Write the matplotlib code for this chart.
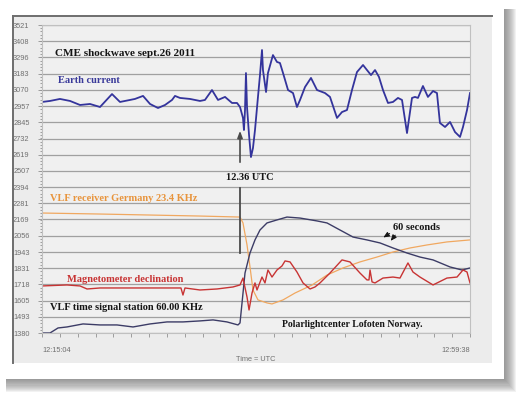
import matplotlib
matplotlib.use("Agg")
import matplotlib.pyplot as plt
from matplotlib.patches import Rectangle
import numpy as np

# tiempos en minutos desde 12:15:04
t_earth = [0.0, 0.83, 1.87, 2.92, 3.96, 5.0, 6.04, 7.29, 8.12, 9.68, 10.52, 11.25, 12.08,
           12.81, 13.54, 13.85, 14.37, 15.41, 16.45, 16.97, 17.70, 18.33, 19.06, 19.79,
           20.31, 20.62, 20.93, 21.03, 21.14, 21.24, 21.35, 21.56, 21.76, 21.97, 22.18,
           22.49, 22.70, 22.91, 23.01, 23.33, 23.53, 24.05, 24.47, 24.78, 25.10, 25.62,
           26.14, 26.55, 26.87, 27.39, 28.01, 28.64, 29.47, 29.99, 30.72, 31.24, 31.76,
           32.28, 32.80, 33.43, 33.84, 34.26, 34.68, 35.09, 35.51, 36.03, 36.55, 37.07,
           37.49, 38.01, 38.53, 38.84, 39.15, 39.67, 40.19, 40.72, 41.13, 41.44, 41.97,
           42.49, 43.01, 43.53, 43.84, 44.26, 44.57]
earth = [2986, 2993, 3007, 2993, 2965, 2972, 2951, 3041, 2986, 3007, 3028, 2972, 2944,
         2965, 3000, 3028, 3014, 3007, 2993, 3000, 3069, 3000, 3021, 2979,
         2979, 2951, 2875, 2791, 2930, 3187, 2951, 2756, 2603, 2666, 2791,
         3021, 3173, 3347, 3208, 3055, 3187, 3312, 3264, 3257, 3187, 3069,
         3048, 2951, 3000, 3090, 3153, 3069, 3048, 3021, 2875, 2916, 2930,
         3069, 3194, 3243, 3208, 3173, 3208, 3160, 3069, 2979, 2986, 3014,
         3000, 2770, 3014, 3021, 3014, 3097, 3021, 3062, 3048, 2840, 2812,
         2847, 2777, 2743, 2812, 2930, 3048]

t_vlf_de = [0.0, 6.04, 11.25, 16.45, 20.62, 20.93, 21.35, 21.66, 21.97, 22.49, 23.43,
            23.95, 25.10, 26.35, 28.13, 29.68, 31.34, 33.11, 34.88, 36.55, 38.32, 40.09,
            42.17, 44.57]
vlf_de = [2214, 2207, 2200, 2193, 2186, 2145, 1992, 1839, 1679, 1610, 1589,
          1582, 1610, 1658, 1714, 1783, 1832, 1874, 1908, 1943, 1971, 1992,
          2013, 2027]

t_mag = [0.0, 2.60, 3.96, 4.69, 6.04, 9.48, 13.02, 14.47, 14.68, 14.89, 16.45, 18.22,
         19.89, 20.62, 20.93, 21.35, 21.56, 21.87, 22.18, 22.39, 22.91, 23.22, 23.53,
         23.95, 24.47, 24.99, 25.31, 25.83, 26.55, 27.18, 27.91, 28.43, 28.95, 29.99,
         31.24, 32.07, 33.11, 33.84, 34.05, 34.16, 34.37, 34.68, 35.51, 36.55, 37.28,
         38.11, 38.63, 39.36, 40.72, 42.17, 43.22, 43.84, 44.26, 44.57]
mag = [1707, 1714, 1707, 1686, 1693, 1693, 1693, 1693, 1644, 1693, 1679, 1686,
       1700, 1714, 1762, 1630, 1540, 1658, 1728, 1679, 1769, 1728, 1818,
       1769, 1818, 1846, 1881, 1874, 1804, 1728, 1686, 1700, 1728, 1797,
       1888, 1874, 1797, 1749, 1749, 1818, 1735, 1728, 1762, 1769, 1762,
       1867, 1804, 1769, 1714, 1762, 1769, 1818, 1804, 1728]

t_vlf_time = [0.0, 0.83, 1.67, 2.60, 4.27, 6.04, 7.81, 9.48, 11.25, 13.02, 14.68, 16.45,
              17.81, 19.26, 20.41, 20.62, 20.83, 21.14, 21.66, 22.18, 22.70, 23.43, 24.47,
              25.51, 26.87, 28.64, 29.68, 31.03, 32.39, 33.84, 35.20, 36.55, 38.01, 39.36,
              40.72, 42.49, 43.74, 44.57]
vlf_time = [1380, 1380, 1415, 1422, 1443, 1436, 1436, 1422, 1443, 1457, 1457, 1464,
            1471, 1457, 1436, 1450, 1589, 1797, 1936, 2027, 2096, 2145, 2166,
            2186, 2179, 2159, 2145, 2096, 2047, 2027, 2006, 1971, 1936, 1908,
            1888, 1839, 1818, 1832]

y_ticks = [1380, 1493, 1605, 1718, 1831, 1943, 2056, 2169, 2281, 2394, 2507, 2619,
           2732, 2845, 2957, 3070, 3183, 3296, 3408, 3521]
t_end = 44.57
t_labels = ["12:15:04", "12:59:38"]

W, H = 520, 396
fig = plt.figure(figsize=(W / 100, H / 100), dpi=100)
fig.patch.set_facecolor("white")

# fondo: sombra, marco blanco y panel gris
bg = fig.add_axes([0, 0, 1, 1])
bg.set_xlim(0, W)
bg.set_ylim(H, 0)
bg.axis("off")
for k in range(12):
    bg.add_patch(Rectangle((6, 9), 499 + k, 371 + k * 1.1, fc="#707070", ec="none", alpha=0.09))
bg.add_patch(Rectangle((2, 4), 502, 375, fc="white", ec="none"))
bg.add_patch(Rectangle((13, 16), 479, 347, fc="#ececec", ec="none"))
bg.plot([13, 492], [16, 16], color="#6e6e6e", lw=1.4)
bg.plot([13, 13], [16, 363], color="#6e6e6e", lw=1.4)

ax = fig.add_axes([42 / W, (H - 333) / H, 428 / W, 308 / H])
ax.set_facecolor("#f0f0f0")
ax.set_xlim(0, t_end)
ax.set_ylim(y_ticks[0], y_ticks[-1])

ax.set_yticks(y_ticks)
ax.set_yticklabels([str(v) for v in y_ticks], fontsize=5.3, color="#707070", family="Liberation Sans")
ax.set_yticks(np.linspace(y_ticks[0], y_ticks[-1], 96), minor=True)
ax.set_xticks(np.linspace(0, t_end, 25))
ax.set_xticklabels([])
ax.tick_params(axis="both", which="both", color="#909090", width=0.6, direction="out")
ax.tick_params(axis="y", which="major", length=3, pad=6)
ax.tick_params(axis="y", which="minor", length=1.5)
ax.tick_params(axis="x", length=3)
ax.grid(axis="y", color="#a0a0a0", lw=0.9)
ax.set_axisbelow(True)
for s in ax.spines.values():
    s.set_color("#c0c0c0")
    s.set_linewidth(0.8)

ax.text(0, -0.045, t_labels[0], transform=ax.transAxes, ha="left", va="top",
        fontsize=5.3, color="#707070", family="Liberation Sans")
ax.text(1, -0.045, t_labels[1], transform=ax.transAxes, ha="right", va="top",
        fontsize=5.3, color="#707070", family="Liberation Sans")
ax.text(0.5, -0.075, "Time = UTC", transform=ax.transAxes, ha="center", va="top",
        fontsize=5.3, color="#707070", family="Liberation Sans")

# las cuatro series
ax.plot(t_vlf_de, vlf_de, color="#f0a860", lw=0.9)
ax.plot(t_vlf_time, vlf_time, color="#3c3c66", lw=1.0)
ax.plot(t_mag, mag, color="#c83434", lw=1.0)
ax.plot(t_earth, earth, color="#34349c", lw=1.3)

# textos
serif = "Liberation Serif"
ax.text(1.35, 3326, "CME shockwave sept.26 2011", fontsize=8, weight="bold", family=serif,
        color="#151515", va="center")
ax.text(1.67, 3132, "Earth current", fontsize=7.5, weight="bold", family=serif,
        color="#3a3a9a", va="center")
ax.text(0.83, 2312, "VLF receiver Germany 23.4 KHz", fontsize=7.5, weight="bold", family=serif,
        color="#e8943c", va="center")
ax.text(2.60, 1755, "Magnetometer declination", fontsize=7.5, weight="bold", family=serif,
        color="#c83434", va="center")
ax.text(0.83, 1554, "VLF time signal station 60.00 KHz", fontsize=7.5, weight="bold", family=serif,
        color="#151515", va="center")
ax.text(21.66, 2458, "12.36 UTC", fontsize=7.5, weight="bold", family=serif,
        color="#151515", va="center", ha="center")
ax.text(36.55, 2110, "60 seconds", fontsize=7.5, weight="bold", family=serif,
        color="#151515", va="center")
ax.text(32.28, 1436, "Polarlightcenter Lofoten Norway.", fontsize=7, weight="bold", family=serif,
        color="#151515", va="center", ha="center")

# flechas
ax.annotate("", xy=(20.62, 2805), xytext=(20.62, 2548),
            arrowprops=dict(arrowstyle="-|>,head_length=0.4,head_width=0.15", color="#4a4a4a", lw=1.2))
ax.plot([20.62, 20.62], [2388, 1936], color="#4a4a4a", lw=1.3)
ax.annotate("", xy=(35.3, 2034), xytext=(36.45, 2082),
            arrowprops=dict(arrowstyle="-|>,head_length=0.35,head_width=0.15", color="#151515", lw=0.7))
ax.annotate("", xy=(36.13, 2006), xytext=(36.97, 2075),
            arrowprops=dict(arrowstyle="-|>,head_length=0.35,head_width=0.15", color="#151515", lw=0.7))

fig.savefig("out.png", dpi=100)
